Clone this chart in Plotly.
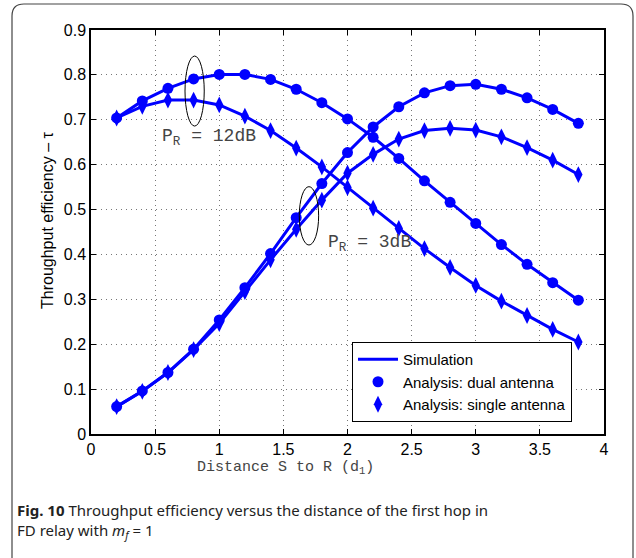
import plotly.graph_objects as go

d1 = [0.2, 0.4, 0.6, 0.8, 1.0, 1.2, 1.4, 1.6, 1.8, 2.0, 2.2, 2.4, 2.6, 2.8, 3.0, 3.2, 3.4, 3.6, 3.8]

dual_12dB = [0.704, 0.742, 0.770, 0.791, 0.801, 0.801, 0.790, 0.768, 0.738, 0.702,
             0.661, 0.614, 0.564, 0.516, 0.469, 0.422, 0.378, 0.337, 0.298]
single_12dB = [0.704, 0.730, 0.744, 0.744, 0.733, 0.708, 0.676, 0.637, 0.595, 0.549,
               0.503, 0.458, 0.413, 0.371, 0.331, 0.296, 0.264, 0.233, 0.205]
dual_3dB = [0.061, 0.096, 0.137, 0.189, 0.254, 0.326, 0.402, 0.482, 0.558, 0.627,
            0.684, 0.729, 0.760, 0.776, 0.779, 0.768, 0.749, 0.723, 0.692]
single_3dB = [0.061, 0.095, 0.137, 0.188, 0.246, 0.317, 0.388, 0.456, 0.521, 0.581,
              0.623, 0.657, 0.676, 0.681, 0.677, 0.662, 0.638, 0.610, 0.578]

x_ticks = [0, 0.5, 1, 1.5, 2, 2.5, 3, 3.5, 4]
x_tick_labels = ["0", "0.5", "1", "1.5", "2", "2.5", "3", "3.5", "4"]
y_ticks = [0, 0.1, 0.2, 0.3, 0.4, 0.5, 0.6, 0.7, 0.8, 0.9]
y_tick_labels = ["0", "0.1", "0.2", "0.3", "0.4", "0.5", "0.6", "0.7", "0.8", "0.9"]

BLUE = "rgb(0,0,255)"
W, H = 636, 558
L, R, T, B = 91, 32, 30, 124
PW, PH = W - L - R, H - T - B


def px(xp):
    return (xp - L) / PW


def py(yp):
    return (H - B - yp) / PH


fig = go.Figure()

sims = [dual_12dB, single_12dB, dual_3dB, single_3dB]
for i, s in enumerate(sims):
    fig.add_trace(go.Scatter(x=d1, y=s, mode="lines", line=dict(color=BLUE, width=3),
                             name="Simulation", showlegend=(i == 0), legendrank=1))

for i, s in enumerate([dual_12dB, dual_3dB]):
    fig.add_trace(go.Scatter(x=d1, y=s, mode="markers",
                             marker=dict(symbol="circle", size=11, color=BLUE),
                             name="Analysis: dual antenna", showlegend=(i == 0), legendrank=2))
for i, s in enumerate([single_12dB, single_3dB]):
    fig.add_trace(go.Scatter(x=d1, y=s, mode="markers",
                             marker=dict(symbol="diamond-tall", size=12, color=BLUE),
                             name="Analysis: single antenna", showlegend=(i == 0), legendrank=3))

SANS = "Liberation Sans, Arial, Helvetica, sans-serif"
axis_font = dict(family=SANS, size=16, color="black")
grid = dict(showgrid=True, gridcolor="#777777", griddash="1px,4px", gridwidth=1)
fig.update_xaxes(range=[0, 4], tickvals=x_ticks, ticktext=x_tick_labels,
                 showline=True, linecolor="black", linewidth=1.5, mirror="ticks",
                 ticks="inside", ticklen=5, tickcolor="black",
                 zeroline=False, tickfont=axis_font, **grid)
fig.update_yaxes(range=[0, 0.9], tickvals=y_ticks, ticktext=y_tick_labels,
                 showline=True, linecolor="black", linewidth=1.5, mirror="ticks",
                 ticks="inside", ticklen=5, tickcolor="black",
                 zeroline=False, tickfont=axis_font, **grid)

# ellipses
fig.add_shape(type="circle", xref="x", yref="y", x0=0.733, x1=0.883, y0=0.686, y1=0.842,
              line=dict(color="black", width=1))
fig.add_shape(type="circle", xref="x", yref="y", x0=1.624, x1=1.775, y0=0.421, y1=0.551,
              line=dict(color="black", width=1))

MONO = "Liberation Mono, Courier New, monospace"
mono = dict(family=MONO, size=18, color="#444444")
fig.add_annotation(x=px(160), y=py(137), xref="paper", yref="paper", xanchor="left",
                   yanchor="middle", text="P<sub>R</sub> = 12dB", showarrow=False, font=mono)
fig.add_annotation(x=px(326), y=py(243), xref="paper", yref="paper", xanchor="left",
                   yanchor="middle", text="P<sub>R</sub> = 3dB", showarrow=False, font=mono)

# axis titles
fig.add_annotation(x=px(285), y=py(468), xref="paper", yref="paper", xanchor="center",
                   yanchor="middle", text="Distance S to R (d<sub>1</sub>)", showarrow=False,
                   font=dict(family=MONO, size=15, color="#444444"))
fig.add_annotation(x=px(47), y=py(221), xref="paper", yref="paper", xanchor="center",
                   yanchor="middle", text="Throughput efficiency \u2013 \u03c4", textangle=-90,
                   showarrow=False, font=dict(family=SANS, size=16, color="black"))

# caption
cap_font = dict(family="Noto Sans", size=15, color="#222222")
fig.add_annotation(x=px(15), y=py(510), xref="paper", yref="paper", xanchor="left",
                   yanchor="middle",
                   text="<b>Fig. 10</b> Throughput efficiency versus the distance of the first hop in",
                   showarrow=False, font=cap_font)
fig.add_annotation(x=px(15), y=py(531), xref="paper", yref="paper", xanchor="left",
                   yanchor="middle", text="FD relay with <i>m</i><sub><i>f</i></sub> = 1",
                   showarrow=False, font=cap_font)

# outer rounded frame
x0, x1, y0, y1, r = px(12), px(633), py(4), py(570), 12
rx, ry = r / PW, r / PH
path = (f"M {x0} {y1} L {x0} {y0 - ry} Q {x0} {y0} {x0 + rx} {y0} "
        f"L {x1 - rx} {y0} Q {x1} {y0} {x1} {y0 - ry} L {x1} {y1}")
fig.add_shape(type="path", xref="paper", yref="paper", path=path,
              line=dict(color="#444444", width=1.2))

fig.update_layout(
    width=W, height=H, margin=dict(l=L, r=R, t=T, b=B),
    plot_bgcolor="white", paper_bgcolor="white",
    legend=dict(x=px(572), y=py(422), xanchor="right", yanchor="bottom",
                bordercolor="black", borderwidth=1, bgcolor="white",
                font=dict(family=SANS, size=15, color="black"),
                itemwidth=40, tracegroupgap=0),
    showlegend=True,
)

fig.write_html("out.html")
